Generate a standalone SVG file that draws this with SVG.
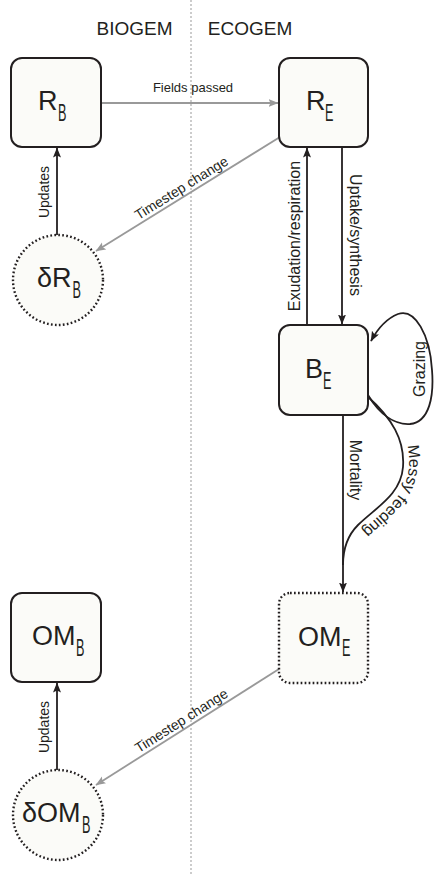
<svg xmlns="http://www.w3.org/2000/svg" width="434" height="874" viewBox="0 0 434 874">
<defs>
<style>
text{font-family:"Liberation Sans","Noto Sans",sans-serif;fill:#231f20}
.hdr{font-size:19px;text-anchor:middle}
.big{font-size:27px}
.sub{font-size:23px}
.lbl{font-size:16px;text-anchor:middle}
.box{fill:#fbfbf8;stroke:#231f20;stroke-width:2}
.dot{fill:#fbfbf8;stroke:#231f20;stroke-width:2.4;stroke-dasharray:1.7 2.3}
.dk{fill:none;stroke:#231f20;stroke-width:1.8}
.gr{fill:none;stroke:#999;stroke-width:1.8}
</style>
<marker id="ak" markerUnits="userSpaceOnUse" markerWidth="11" markerHeight="9" refX="9.5" refY="4" orient="auto"><path d="M0,0 L10,4 L0,8 L2,4 z" fill="#231f20"/></marker>
<marker id="ag" markerUnits="userSpaceOnUse" markerWidth="11" markerHeight="9" refX="9.5" refY="4" orient="auto"><path d="M0,0 L10,4 L0,8 L2,4 z" fill="#999"/></marker>
<path id="mfp" d="M374 393 C399 415 411 440 409 467 C407 497 381 512 364 529 C354 539 349 552 349 569"/>
</defs>

<line x1="191" y1="0" x2="191" y2="874" stroke="#999" stroke-width="1" stroke-dasharray="2 2"/>
<text class="hdr" x="134.5" y="35">BIOGEM</text>
<text class="hdr" x="250" y="35">ECOGEM</text>

<g id="connectors">
<line class="gr" x1="101" y1="103" x2="278" y2="103" marker-end="url(#ag)"/>
<text style="font-size:13px;text-anchor:middle" x="193" y="92">Fields passed</text>
<line class="dk" x1="57" y1="236" x2="57" y2="148" marker-end="url(#ak)"/>
<text class="lbl" style="font-size:14px" transform="translate(49,192) rotate(-90)">Updates</text>
<line class="gr" x1="280" y1="137" x2="96" y2="251" marker-end="url(#ag)"/>
<text class="lbl" style="font-size:14px" transform="translate(186,195.4) rotate(-31.9)" y="-4">Timestep change</text>
<line class="dk" x1="307" y1="325" x2="307" y2="148" marker-end="url(#ak)"/>
<text class="lbl" transform="translate(299.5,236) rotate(-90)">Exudation/respiration</text>
<line class="dk" x1="342" y1="147" x2="342" y2="324" marker-end="url(#ak)"/>
<text class="lbl" transform="translate(349.5,235) rotate(90)">Uptake/synthesis</text>
<path class="dk" d="M368 395 C380 415 395 425 410 424 C430 422 434 395 432 370 C430 335 415 308 398 314 C388 318 378 328 371 341" marker-end="url(#ak)"/>
<text class="lbl" transform="translate(425,369) rotate(-90)">Grazing</text>
<line class="dk" x1="343" y1="415" x2="343" y2="592" marker-end="url(#ak)"/>
<text class="lbl" transform="translate(350,470) rotate(90)">Mortality</text>
<path class="dk" d="M367 396 C392 418 405 440 403 467 C401 495 375 508 358 525 C348 535 343 548 343 565"/>
<text style="font-size:16px;text-anchor:middle"><textPath href="#mfp" startOffset="115">Messy feeding</textPath></text>
<line class="dk" x1="57" y1="770" x2="57" y2="683" marker-end="url(#ak)"/>
<text class="lbl" style="font-size:14px" transform="translate(49,727) rotate(-90)">Updates</text>
<line class="gr" x1="279" y1="669" x2="96" y2="785" marker-end="url(#ag)"/>
<text class="lbl" style="font-size:14px" transform="translate(186,728.1) rotate(-32.4)" y="-4">Timestep change</text>
</g>

<g id="RB">
<rect class="box" x="11" y="58" width="90" height="89" rx="11"/>
<text class="big" x="38" y="110">R</text>
<text class="sub" transform="translate(58,120.5) scale(0.55,1)">B</text>
</g>
<g id="RE">
<rect class="box" x="279" y="58" width="89" height="89" rx="11"/>
<text class="big" x="306" y="110">R</text>
<text class="sub" transform="translate(325,120.5) scale(0.55,1)">E</text>
</g>
<g id="dRB">
<circle class="dot" cx="58" cy="280" r="45"/>
<text class="big" x="37" y="287">δR</text>
<text class="sub" transform="translate(72.5,298) scale(0.55,1)">B</text>
</g>
<g id="BE">
<rect class="box" x="279" y="325" width="89" height="90" rx="11"/>
<text class="big" x="305" y="378">B</text>
<text class="sub" transform="translate(323,388.5) scale(0.55,1)">E</text>
</g>
<g id="OMB">
<rect class="box" x="11" y="593" width="90" height="89" rx="11"/>
<text class="big" x="32" y="645">OM</text>
<text class="sub" transform="translate(76,655.5) scale(0.55,1)">B</text>
</g>
<g id="OME">
<rect class="dot" x="279" y="593" width="89" height="90" rx="11"/>
<text class="big" x="298" y="645.5">OM</text>
<text class="sub" transform="translate(342,656) scale(0.55,1)">E</text>
</g>
<g id="dOMB">
<circle class="dot" cx="58" cy="815" r="45"/>
<text class="big" x="22" y="822">δOM</text>
<text class="sub" transform="translate(82,833) scale(0.55,1)">B</text>
</g>
</svg>
